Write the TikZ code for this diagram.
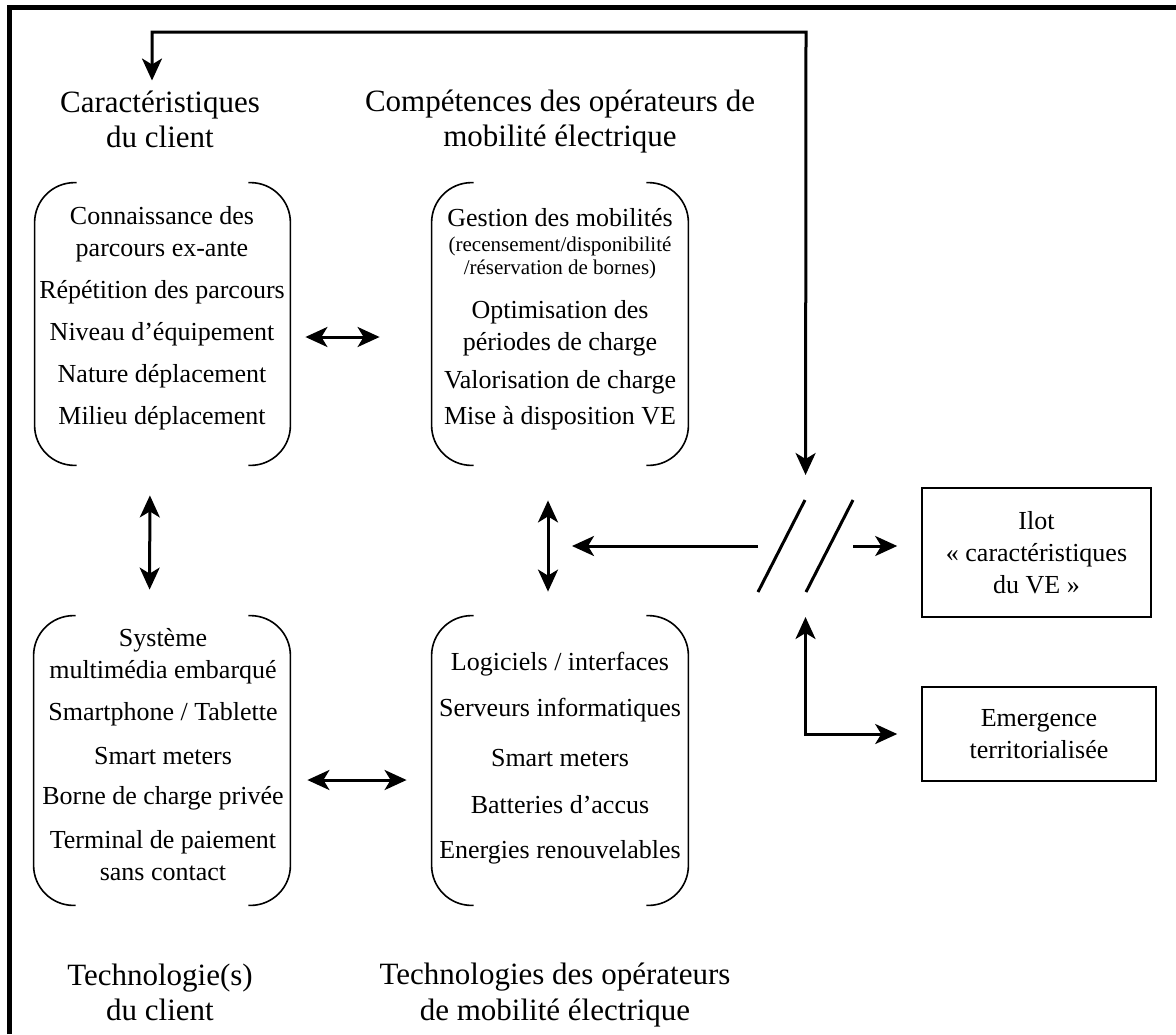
\documentclass[tikz,border=0pt]{standalone}
\usepackage{fontspec}
\setmainfont{Liberation Serif}
\usetikzlibrary{arrows.meta,calc,positioning}
% open box: only the rounded left and right sides are drawn
\newcommand{\brackbox}[1]{%
  \draw[bracket] ([xshift=21pt]#1.north west) -- (#1.north west) -- (#1.south west) -- ([xshift=21pt]#1.south west);
  \draw[bracket] ([xshift=-21pt]#1.north east) -- (#1.north east) -- (#1.south east) -- ([xshift=-21pt]#1.south east);}
\tikzset{
  bracket/.style={line width=0.8pt,rounded corners=20pt},
  zone/.style={inner sep=0pt},
  title/.style={align=center,font=\fontsize{15.5}{17.5}\selectfont},
  item/.style={align=center,font=\fontsize{13}{16}\selectfont},
  note/.style={align=center,font=\fontsize{10.5}{11.5}\selectfont},
  sidebox/.style={draw,line width=0.8pt,align=center,inner sep=0pt,font=\fontsize{13}{16}\selectfont},
  link/.style={line width=1.5pt,>={Stealth[length=11pt,width=10pt,inset=3pt]}}
}

\begin{document}
\begin{tikzpicture}[x=0.5pt,y=-0.5pt]
  \useasboundingbox (0,0) rectangle (1176,1034);
  % frame (left and top only)
  \draw[line width=2.25pt] (9.5,1034) -- (9.5,7.5) -- (1176,7.5);
  % the four zones
  \node[zone,minimum width=127.5pt,minimum height=141pt] (client) at (162.5,324) {};
  \node[zone,minimum width=128pt,minimum height=141pt] (comp) at (560,324) {};
  \node[zone,minimum width=128pt,minimum height=144.5pt] (techcl) at (162,760.5) {};
  \node[zone,minimum width=128pt,minimum height=144.5pt] (techop) at (560,760.5) {};
  \brackbox{client}
  \brackbox{comp}
  \brackbox{techcl}
  \brackbox{techop}
  % titles
  \node[title] (clienttitle) at (160,119) {Caractéristiques\\du client};
  \node[title] (comptitle) at (560,122) {Compétences des opérateurs de\\mobilité électrique};
  \node[title] (techcltitle) at (160,992) {Technologie(s)\\du client};
  \node[title] (techoptitle) at (555,995) {Technologies des opérateurs\\de mobilité électrique};
  % client characteristics
  \foreach \y/\txt [count=\i] in {234/{Connaissance des\\parcours ex-ante},292/Répétition des parcours,
      334/Niveau d’équipement,376/Nature déplacement,418/Milieu déplacement}
    \node[item] (cl\i) at (162,\y) {\txt};
  % operator skills
  \node[item] (gest) at (560,218) {Gestion des mobilités};
  \node[note] (gestnote) at (560,257.5) {(recensement/disponibilité\\/réservation de bornes)};
  \foreach \y/\txt [count=\i] in {328.5/{Optimisation des\\périodes de charge},382/Valorisation de charge,
      418/Mise à disposition VE}
    \node[item] (cp\i) at (560,\y) {\txt};
  % client technologies
  \foreach \y/\txt [count=\i] in {656/{Système\\multimédia embarqué},714/{Smartphone / Tablette},
      756/Smart meters,798/Borne de charge privée,856/{Terminal de paiement\\sans contact}}
    \node[item] (tc\i) at (163,\y) {\txt};
  % operator technologies
  \foreach \y/\txt [count=\i] in {664/{Logiciels / interfaces},710/Serveurs informatiques,
      758/Smart meters,805/Batteries d’accus,852/Energies renouvelables}
    \node[item] (to\i) at (560,\y) {\txt};
  % right boxes
  \node[sidebox,minimum width=114.5pt,minimum height=64.5pt] (ilot) at (1036.5,552.5) {Ilot\\« caractéristiques\\du VE »};
  \node[sidebox,minimum width=117pt,minimum height=47pt] (emerg) at (1039,734) {Emergence\\territorialisée};
  % break point
  \coordinate (brk) at (805.5,546);
  \coordinate (mid) at (548,546);
  \draw[link] (758,592) -- (805,500);
  \draw[link] (806,592) -- (853,500);
  % links between zones
  \draw[link,<->,shorten <=7.5pt,shorten >=26pt] ([yshift=-6.5pt]client.east) -- ([yshift=-6.5pt]comp.west);
  \draw[link,<->,shorten <=8.5pt,shorten >=12.5pt] ([yshift=-9.75pt]techcl.east) -- ([yshift=-9.75pt]techop.west);
  \draw[link,<->,shorten <=15pt,shorten >=13pt] ([xshift=-6.25pt]client.south) -- ([xshift=-6.25pt]techcl.north);
  \draw[link,<->,shorten <=17.5pt,shorten >=12pt] ([xshift=-6pt]comp.south) -- ([xshift=-6pt]techop.north);
  % links through the break
  \draw[link,<->,shorten >=35.5pt] ([xshift=-4pt,yshift=1.5pt]clienttitle.north) |- (806,32) -- (brk);
  \draw[link,->,shorten <=23.75pt,shorten >=12pt] (brk) -- (mid);
  \draw[link,->,shorten <=23.75pt,shorten >=12pt] (brk) -- (brk -| ilot.west);
  \draw[link,<->,shorten <=35.5pt,shorten >=12pt] (brk) |- (emerg.west);
\end{tikzpicture}
\end{document}
